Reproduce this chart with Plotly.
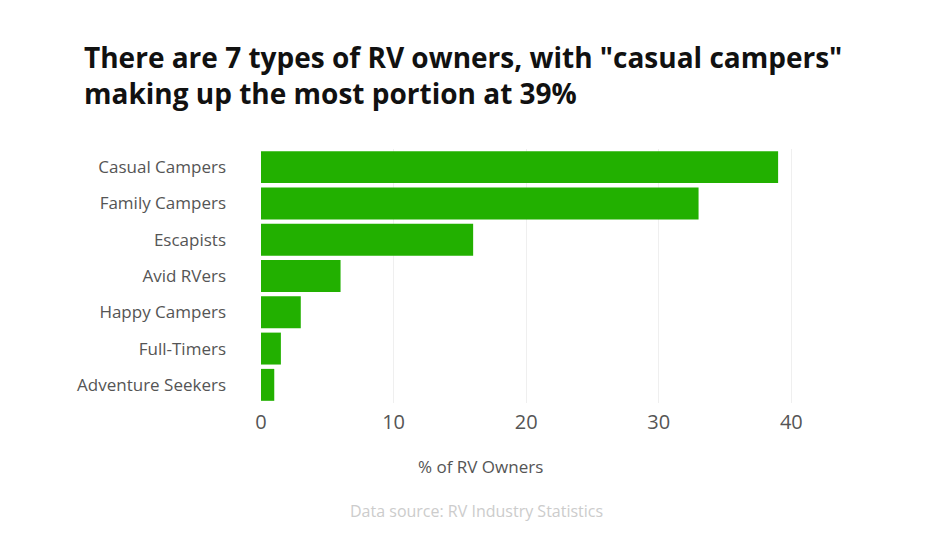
import plotly.graph_objects as go

categories = ["Casual Campers", "Family Campers", "Escapists", "Avid RVers",
              "Happy Campers", "Full-Timers", "Adventure Seekers"]
values = [39, 33, 16, 6, 3, 1.5, 1]
tick_vals = [0, 10, 20, 30, 40]

title_text = 'There are 7 types of RV owners, with "casual campers"<br>making up the most portion at 39%'
x_title = "% of RV Owners"
source_text = "Data source: RV Industry Statistics"

W, H = 925, 550
OFF = 8  # page body margin
L, R, T, B = 261 - OFF, 127 + OFF, 149 - OFF, 147 + OFF

fig = go.Figure(go.Bar(
    x=values, y=categories, orientation="h",
    marker=dict(color="#22b000", line=dict(width=0)),
))

pw, ph = W - L - R, H - T - B


def dom_x(px):
    return (px - OFF - L) / pw


def dom_y(py):
    return (H - B - (py - OFF)) / ph


fig.update_layout(
    width=W, height=H,
    margin=dict(l=L, r=R, t=T, b=B),
    paper_bgcolor="white", plot_bgcolor="white",
    bargap=0.12,
    showlegend=False,
    font=dict(family="Open Sans", color="#555555"),
    title=dict(text=title_text, x=(84 - OFF) / W, xanchor="left", xref="container",
               y=1 - 60 / H, yanchor="top", yref="container",
               font=dict(family="Open Sans", size=28, color="#111111", weight="bold")),
    xaxis=dict(range=[0, 40.5], tickvals=tick_vals, showgrid=True,
               gridcolor="#efefef", gridwidth=1, zeroline=False, showline=False,
               tickfont=dict(size=20, color="#555555"), ticks="", ticklen=0,
               ticklabelstandoff=5, fixedrange=True),
    yaxis=dict(categoryorder="array", categoryarray=categories[::-1],
               showgrid=False, zeroline=False, showline=False, ticks="",
               tickfont=dict(size=17, color="#555555"), ticklabelstandoff=34),
    annotations=[
        dict(text=x_title, x=dom_x(480), y=dom_y(466), xref="x domain", yref="y domain",
             showarrow=False, xanchor="center", yanchor="middle",
             font=dict(size=17, color="#555555")),
        dict(text=source_text, x=dom_x(476), y=dom_y(511), xref="x domain", yref="y domain",
             showarrow=False, xanchor="center", yanchor="middle",
             font=dict(size=16, color="#cccccc")),
    ],
)

fig.write_html("out.html")
